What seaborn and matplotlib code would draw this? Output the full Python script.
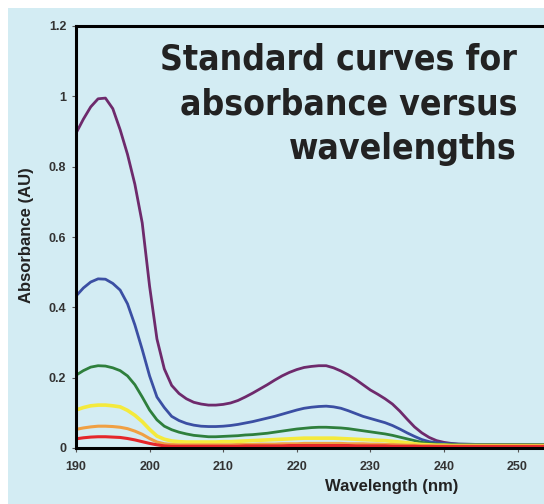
import numpy as np
import pandas as pd
import matplotlib
matplotlib.use("Agg")
import matplotlib.pyplot as plt
from matplotlib.patches import Rectangle
from matplotlib.ticker import FuncFormatter
import seaborn as sns

# wavelength grid (nm)
wavelength = list(range(190, 243)) + [245, 250, 254]

# absorbance, one list per standard
purple = [0.895, 0.935, 0.97, 0.993, 0.995, 0.965, 0.905, 0.835, 0.75, 0.64,
          0.46, 0.31, 0.225, 0.178, 0.155, 0.14, 0.13, 0.125, 0.122, 0.122,
          0.124, 0.128, 0.135, 0.145, 0.156, 0.168, 0.18, 0.193, 0.205, 0.215,
          0.223, 0.229, 0.232, 0.234, 0.234, 0.228, 0.219, 0.208, 0.195, 0.18,
          0.165, 0.153, 0.14, 0.125, 0.105, 0.082, 0.06, 0.043, 0.03, 0.021,
          0.016, 0.013, 0.011, 0.01, 0.01, 0.01]
blue = [0.432, 0.455, 0.472, 0.481, 0.48, 0.468, 0.449, 0.41, 0.35, 0.28,
        0.205, 0.145, 0.115, 0.09, 0.078, 0.07, 0.065, 0.062, 0.061, 0.061,
        0.062, 0.064, 0.067, 0.071, 0.075, 0.08, 0.085, 0.09, 0.096, 0.102,
        0.108, 0.113, 0.116, 0.118, 0.119, 0.117, 0.113, 0.106, 0.098, 0.09,
        0.084, 0.078, 0.072, 0.064, 0.054, 0.043, 0.033, 0.024, 0.018, 0.015,
        0.013, 0.012, 0.011, 0.01, 0.01, 0.01]
green = [0.207, 0.22, 0.23, 0.234, 0.233, 0.228, 0.22, 0.205, 0.18, 0.145,
         0.108, 0.08, 0.062, 0.052, 0.045, 0.04, 0.036, 0.034, 0.032, 0.032,
         0.033, 0.034, 0.035, 0.037, 0.038, 0.04, 0.042, 0.045, 0.048, 0.051,
         0.054, 0.056, 0.058, 0.059, 0.059, 0.058, 0.057, 0.055, 0.052, 0.049,
         0.046, 0.043, 0.04, 0.036, 0.031, 0.026, 0.021, 0.016, 0.013, 0.011,
         0.01, 0.01, 0.009, 0.009, 0.009, 0.009]
yellow = [0.108, 0.115, 0.12, 0.122, 0.122, 0.12, 0.117, 0.107, 0.093, 0.075,
          0.053, 0.034, 0.025, 0.02, 0.018, 0.017, 0.017, 0.017, 0.017, 0.017,
          0.018, 0.018, 0.019, 0.02, 0.021, 0.022, 0.023, 0.024, 0.025, 0.026,
          0.027, 0.028, 0.028, 0.028, 0.028, 0.028, 0.027, 0.026, 0.025, 0.024,
          0.023, 0.022, 0.021, 0.019, 0.017, 0.015, 0.012, 0.01, 0.009, 0.008,
          0.008, 0.007, 0.007, 0.007, 0.007, 0.007]
orange = [0.053, 0.057, 0.06, 0.062, 0.062, 0.061, 0.059, 0.055, 0.048, 0.039,
          0.027, 0.017, 0.012, 0.01, 0.009, 0.009, 0.009, 0.009, 0.009, 0.009,
          0.009, 0.009, 0.01, 0.01, 0.01, 0.011, 0.011, 0.011, 0.012, 0.012,
          0.012, 0.013, 0.013, 0.013, 0.013, 0.013, 0.013, 0.012, 0.012, 0.012,
          0.011, 0.011, 0.01, 0.01, 0.009, 0.008, 0.008, 0.007, 0.007, 0.006,
          0.006, 0.006, 0.006, 0.006, 0.006, 0.006]
red = [0.026, 0.029, 0.031, 0.032, 0.032, 0.031, 0.03, 0.027, 0.023, 0.018,
       0.013, 0.009, 0.006, 0.005, 0.005, 0.005, 0.005, 0.005, 0.005, 0.005,
       0.005, 0.005, 0.005, 0.006, 0.006, 0.006, 0.006, 0.006, 0.006, 0.007,
       0.007, 0.007, 0.007, 0.007, 0.007, 0.007, 0.007, 0.007, 0.006, 0.006,
       0.006, 0.006, 0.006, 0.005, 0.005, 0.005, 0.005, 0.004, 0.004, 0.004,
       0.004, 0.004, 0.004, 0.004, 0.004, 0.004]

series_names = ["purple", "blue", "green", "yellow", "orange", "red"]
series_values = [purple, blue, green, yellow, orange, red]
line_colors = {"purple": "#6e2a6c", "blue": "#3b4fa3", "green": "#2e7f3c",
               "yellow": "#f4ea3c", "orange": "#f0a043", "red": "#e5262a"}
line_widths = {"purple": 2.0, "blue": 2.0, "green": 2.0,
               "yellow": 2.6, "orange": 2.2, "red": 2.2}

df = pd.concat(
    [pd.DataFrame({"wavelength": wavelength, "absorbance": v, "std": n})
     for n, v in zip(series_names, series_values)],
    ignore_index=True,
)

sns.set_style("ticks")
plt.rcParams["font.family"] = ["Liberation Sans", "DejaVu Sans"]

bg = "#d3ecf3"
fig = plt.figure(figsize=(5.44, 5.04), dpi=100)
fig.patch.set_facecolor("white")
fig.patches.append(Rectangle((8 / 544, 0), 1, 1 - 8 / 504, transform=fig.transFigure,
                             facecolor=bg, edgecolor="none", zorder=-10))

ax = fig.add_axes([76 / 544, 1 - 448 / 504, 1 - 76 / 544, (448 - 26) / 504])
ax.set_facecolor(bg)

for name in series_names:
    sns.lineplot(data=df[df["std"] == name], x="wavelength", y="absorbance",
                 color=line_colors[name], lw=line_widths[name], ax=ax,
                 legend=False, solid_capstyle="round", solid_joinstyle="round")

ax.set_xlim(190, 253.6)
ax.set_ylim(0, 1.2)
ax.set_xticks([190, 200, 210, 220, 230, 240, 250])
ax.set_yticks([0, 0.2, 0.4, 0.6, 0.8, 1.0, 1.2])
ax.yaxis.set_major_formatter(FuncFormatter(lambda v, p: f"{v:g}"))

for side in ["left", "top", "bottom"]:
    ax.spines[side].set_color("black")
    ax.spines[side].set_linewidth(2.2)
ax.spines["right"].set_visible(False)

ax.tick_params(axis="both", colors="#555555", labelcolor="#333333",
               length=3, width=0.8, labelsize=9, pad=4)
ax.tick_params(axis="x", pad=6)
for lab in ax.get_xticklabels() + ax.get_yticklabels():
    lab.set_fontweight("bold")

ax.set_xlabel("")
ax.set_ylabel("")
fig.text(392 / 544, 1 - 487 / 504, "Wavelength (nm)", ha="center", va="center",
         fontsize=12, fontweight="bold", color="#222222")
fig.text(27 / 544, 1 - 235 / 504, "Absorbance (AU)", ha="center", va="center",
         rotation=90, fontsize=12, fontweight="bold", color="#222222")

fig.text(517 / 544, 1 - 43 / 504, "Standard curves for\nabsorbance versus\nwavelengths",
         ha="right", va="top", fontsize=25.5, fontweight="bold",
         fontstretch="condensed", color="#222222", linespacing=1.38,
         family=["DejaVu Sans"])

fig.savefig("out.png", dpi=100, facecolor=fig.get_facecolor())
